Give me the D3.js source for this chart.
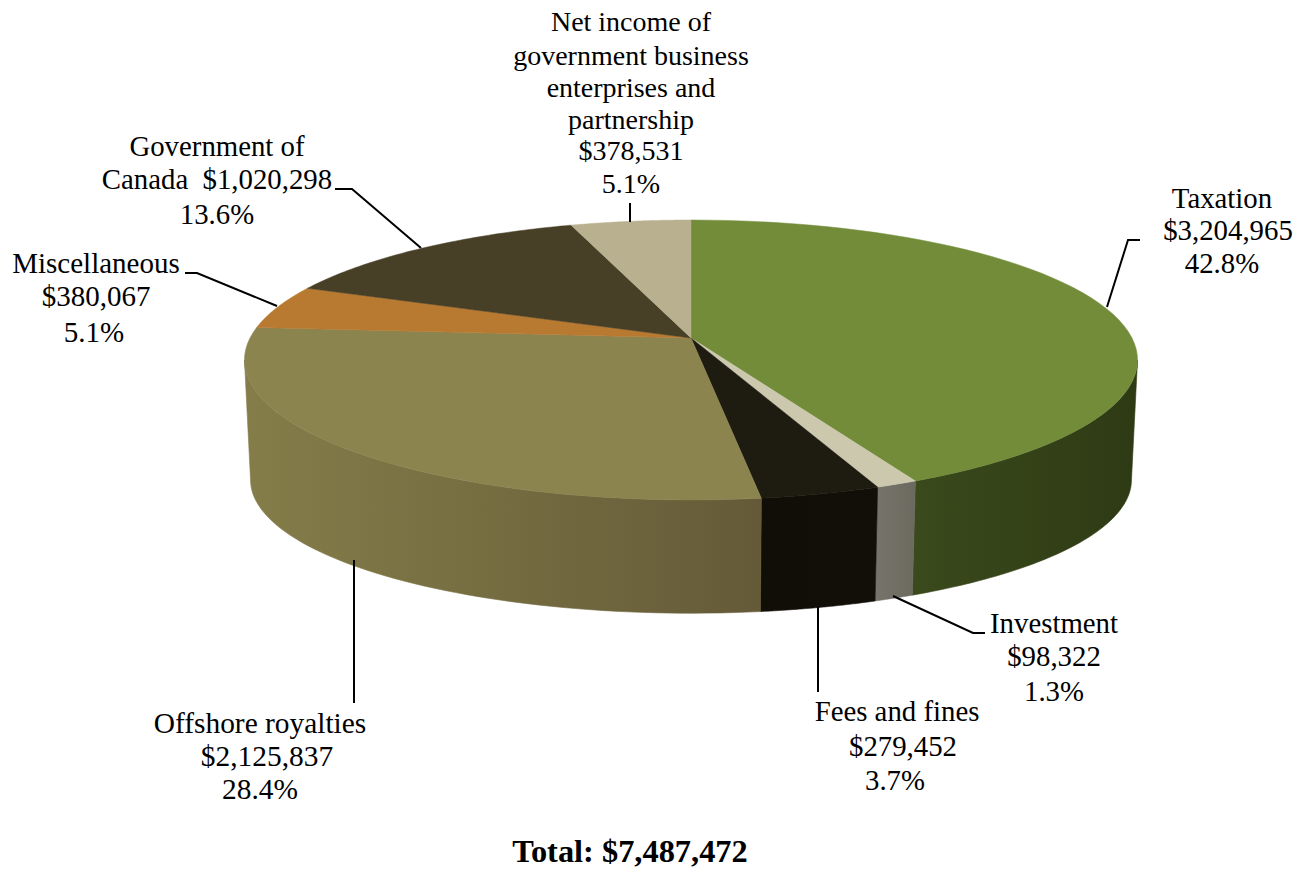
<!DOCTYPE html>
<html><head><meta charset="utf-8">
<script src="https://cdn.jsdelivr.net/npm/d3@7/dist/d3.min.js"></script>
<style>html,body{margin:0;padding:0;background:#fff}svg{display:block}text{font-family:"Liberation Serif",serif;fill:#000}</style>
</head><body><svg id="c" width="1309" height="894"></svg>
<script>
const categories = ["Taxation","Investment","Fees and fines","Offshore royalties","Miscellaneous","Government of Canada","Net income of government business enterprises and partnership"];
const seriesValues = [3204965,98322,279452,2125837,380067,1020298,378531];
const valueLabels = ["$3,204,965","$98,322","$279,452","$2,125,837","$380,067","$1,020,298","$378,531"];
const percentLabels = ["42.8%","1.3%","3.7%","28.4%","5.1%","13.6%","5.1%"];
const totalLabel = "Total: $7,487,472";

const topColors = ["#738c3a","#ccc8ae","#1e1b10","#8c844f","#b87a31","#473f26","#b8b08e"];
const wallStops = [["#2e3a14","#3a4a1c"],["#76736a","#6c695f"],["#110e07","#120f08"],["#847d49","#655a38"],["#847d49","#847d49"],["#473f26","#473f26"],["#b8b08e","#b8b08e"]];

// label layout: font size, text lines with centre x and baseline y, leader polyline
const labelLayout = [
 {size:28.8,lines:[[1222,208,categories[0]],[1228,240,valueLabels[0]],[1222,273,percentLabels[0]]], leader:[[1107,307],[1128,240],[1140,240]]},
 {size:28.8,lines:[[1054,633,categories[1]],[1054,666,valueLabels[1]],[1054,701,percentLabels[1]]], leader:[[893,596],[973,633],[985,633]]},
 {size:28.8,lines:[[897,721,categories[2]],[903,756,valueLabels[2]],[895,790,percentLabels[2]]], leader:[[818,607],[818,692]]},
 {size:29.4,lines:[[260,733,categories[3]],[267,766,valueLabels[3]],[260,799,percentLabels[3]]], leader:[[354,560],[354,703]]},
 {size:29,lines:[[96,273,categories[4]],[96,306,valueLabels[4]],[94,342,percentLabels[4]]], leader:[[277,306],[197,273],[185,273]]},
 {size:28.8,lines:[[217,156,"Government of"],[217,189,"Canada  "+valueLabels[5]],[217,224,percentLabels[5]]], leader:[[421,248],[352,189],[335,189]]},
 {size:28,lines:[[631,31,"Net income of"],[631,65,"government business"],[631,97,"enterprises and"],[631,129,"partnership"],[631,160,valueLabels[6]],[631,193,percentLabels[6]]], leader:[[630,222],[630,203]]}
];

const svg = d3.select("#c");
const defs = svg.append("defs");
const cx = 691, persp = 0.157;
const topRim = {r:441, b:136.5, cy:338};
const lowRim = {r:435, b:130, cy:459};
const project = (rim,a)=>{const u=Math.sin(a),v=-Math.cos(a),s=1/(1-persp*v);return [cx+rim.r*u*s, rim.cy+rim.b*v*s];};
const arcPts = (rim,a,b)=>d3.range(0,61).map(i=>project(rim,a+(b-a)*i/60));
const line = d3.line();
const slices = d3.pie().sort(null)(seriesValues);
const wallFrom = Math.PI - Math.acos(persp), wallTo = Math.PI + Math.acos(persp);

const walls = svg.append("g"), tops = svg.append("g"), leaders = svg.append("g"), labels = svg.append("g");

slices.forEach((d,i)=>{
  const a=Math.max(d.startAngle,wallFrom), b=Math.min(d.endAngle,wallTo);
  if(b>a){
    const up=arcPts(topRim,a,b), lo=arcPts(lowRim,b,a);
    const id="w"+i;
    const g=defs.append("linearGradient").attr("id",id).attr("gradientUnits","userSpaceOnUse")
      .attr("x1",d3.min(up,p=>p[0])).attr("x2",d3.max(up,p=>p[0])).attr("y1",0).attr("y2",0);
    const [l,r]= wallStops[i];
    g.append("stop").attr("offset",0).attr("stop-color",i===0?r:l);
    g.append("stop").attr("offset",1).attr("stop-color",i===0?l:r);
    walls.append("path").attr("d",line(up.concat(lo))+"Z").attr("fill",`url(#${id})`).attr("stroke",`url(#${id})`).attr("stroke-width",.6);
  }
  const rim=arcPts(topRim,d.startAngle,d.endAngle);
  tops.append("path").attr("d",line([[cx,topRim.cy]].concat(rim))+"Z").attr("fill",topColors[i]).attr("stroke",topColors[i]).attr("stroke-width",.5);
});

labelLayout.forEach(l=>{
  leaders.append("path").attr("d",line(l.leader)).attr("fill","none").attr("stroke","#000").attr("stroke-width",2);
  l.lines.forEach(t=>{
    labels.append("text").attr("x",t[0]).attr("y",t[1]).attr("text-anchor","middle").attr("font-size",l.size).style("white-space","pre").text(t[2]);
  });
});
svg.append("text").attr("x",630).attr("y",862).attr("text-anchor","middle").attr("font-size",32.4).attr("font-weight","bold").text(totalLabel);
</script></body></html>
